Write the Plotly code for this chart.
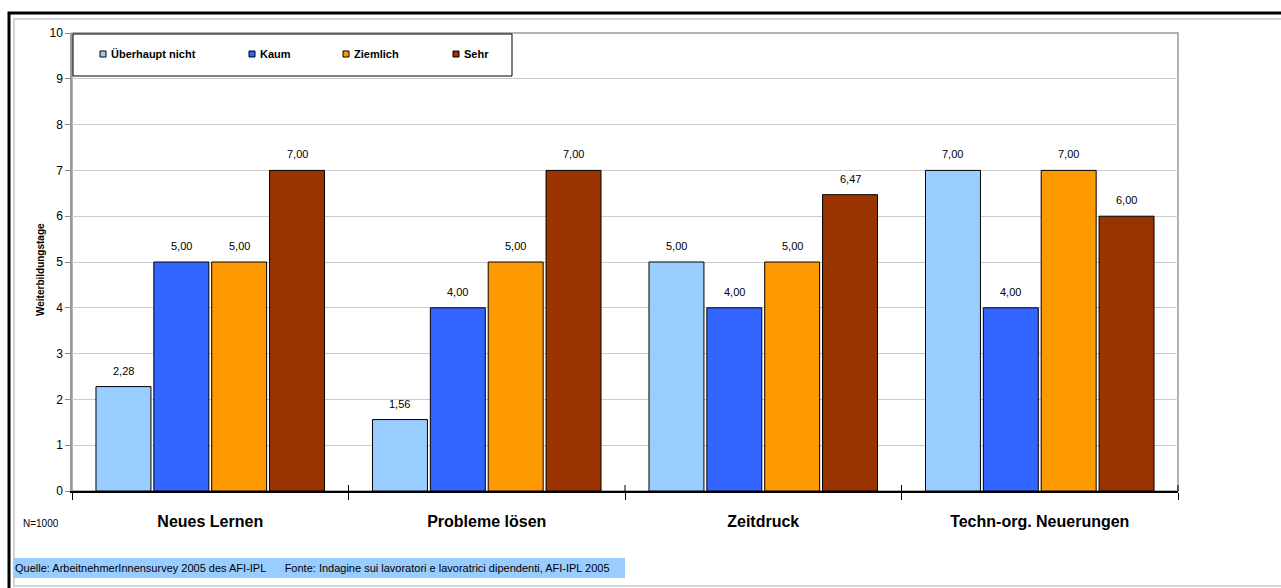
import plotly.graph_objects as go

# Weiterbildungstage nach Anforderung am Arbeitsplatz
categories = ["Neues Lernen", "Probleme lösen", "Zeitdruck", "Techn-org. Neuerungen"]
series_names = ["Überhaupt nicht", "Kaum", "Ziemlich", "Sehr"]
ueberhaupt_nicht = [2.28, 1.56, 5.00, 7.00]
kaum = [5.00, 4.00, 4.00, 4.00]
ziemlich = [5.00, 5.00, 5.00, 7.00]
sehr = [7.00, 7.00, 6.47, 6.00]
y_ticks = list(range(0, 11))
series_values = [ueberhaupt_nicht, kaum, ziemlich, sehr]
colors = ["#99CCFF", "#3366FF", "#FF9900", "#993300"]

W, H = 1281, 588
L, R, T, B = 72, 1178, 33, 491  # plot area in pixels
FONT = "Liberation Sans, Arial, sans-serif"


def px(x):
    return (x - L) / (R - L)


def py(y):
    return (B - y) / (B - T)


BARGAP = 0.163
fig = go.Figure()
for name, vals, col in zip(series_names, series_values, colors):
    fig.add_trace(go.Bar(
        x=categories, y=vals, name=name,
        marker=dict(color=col, line=dict(color="#000000", width=1)),
        showlegend=False, hoverinfo="x+y+name",
    ))

# value labels above each bar
n = len(series_values)
slot = (1 - BARGAP) / n
annotations = []
for j, vals in enumerate(series_values):
    for i, v in enumerate(vals):
        annotations.append(dict(
            x=i + (j - (n - 1) / 2) * slot, y=v, xref="x", yref="y",
            text=f"{v:.2f}".replace(".", ","), showarrow=False,
            yanchor="bottom", yshift=8,
            font=dict(family=FONT, size=11, color="#000000"),
        ))

shapes = [
    # outer frame
    dict(type="rect", xref="paper", yref="paper", x0=px(9), x1=px(1300), y0=py(600), y1=py(13),
         line=dict(color="#000000", width=3), layer="below"),
    dict(type="rect", xref="paper", yref="paper", x0=px(14), x1=px(1300), y0=py(586), y1=py(19),
         line=dict(color="#C8C8C8", width=1.5), layer="below"),
    # plot area border
    dict(type="rect", xref="paper", yref="paper", x0=0, x1=1, y0=0, y1=1,
         line=dict(color="#999999", width=1.5), layer="below"),
    # source band
    dict(type="rect", xref="paper", yref="paper", x0=px(13), x1=px(625), y0=py(578), y1=py(558),
         fillcolor="#99CCFF", line=dict(width=0), layer="below"),
    # legend box
    dict(type="rect", xref="paper", yref="paper", x0=px(73), x1=px(512), y0=py(76), y1=py(34),
         fillcolor="#FFFFFF", line=dict(color="#000000", width=1), layer="above"),
]

# category separators crossing the x axis
for k in range(1, len(categories) + 1):
    xb = px(L + k * (R - L) / len(categories))
    shapes.append(dict(type="line", xref="paper", yref="paper", x0=xb, x1=xb,
                       y0=py(485), y1=py(491), line=dict(color="#000000", width=1)))

# legend entries
legend_x = [100, 249, 343, 453]
for lx, name, col in zip(legend_x, series_names, colors):
    shapes.append(dict(type="rect", xref="paper", yref="paper", x0=px(lx), x1=px(lx + 6),
                       y0=py(57), y1=py(51), fillcolor=col,
                       line=dict(color="#000000", width=1), layer="above"))
    annotations.append(dict(x=px(lx + 9), y=py(54), xref="paper", yref="paper",
                            text=f"<b>{name}</b>", showarrow=False, xanchor="left",
                            yanchor="middle",
                            font=dict(family=FONT, size=11, color="#000000")))

annotations += [
    dict(x=px(40), y=py(270), xref="paper", yref="paper", text="<b>Weiterbildungstage</b>",
         textangle=-90, showarrow=False, xanchor="center", yanchor="middle",
         font=dict(family=FONT, size=10, color="#000000")),
    dict(x=px(21), y=py(523), xref="paper", yref="paper", text="N=1000",
         xanchor="left", yanchor="middle",
         showarrow=False, font=dict(family=FONT, size=10, color="#000000")),
    dict(x=px(13), y=py(568), xref="paper", yref="paper",
         text="Quelle: ArbeitnehmerInnensurvey 2005 des AFI-IPL&nbsp;&nbsp;&nbsp;&nbsp;&nbsp;&nbsp;"
              "Fonte: Indagine sui lavoratori e lavoratrici dipendenti, AFI-IPL 2005",
         xanchor="left", yanchor="middle", showarrow=False,
         font=dict(family=FONT, size=11, color="#000000")),
]

fig.update_layout(
    width=W, height=H,
    margin=dict(l=L, r=W - R, t=T, b=H - B, pad=0),
    barmode="group", bargap=BARGAP, bargroupgap=0.05,
    plot_bgcolor="#FFFFFF", paper_bgcolor="#FFFFFF",
    font=dict(family=FONT, color="#000000"),
    separators=",.",
    shapes=shapes, annotations=annotations,
)
fig.update_xaxes(
    showline=True, linecolor="#000000", linewidth=1.5,
    ticks="outside", tickson="boundaries", ticklen=7, tickcolor="#000000", tickwidth=1,
    tickfont=dict(family=FONT, size=16, color="#000000"),
    ticklabelstandoff=15,
    tickprefix="<b>", ticksuffix="</b>",
    showgrid=False,
)
fig.update_yaxes(
    range=[0, 10], tickvals=y_ticks,
    showline=True, linecolor="#999999", linewidth=1.5,
    ticks="outside", ticklen=5, tickcolor="#888888",
    tickfont=dict(family=FONT, size=12, color="#000000"),
    showgrid=True, gridcolor="#CCCCCC", gridwidth=1,
    zeroline=False,
)

fig.write_html("out.html")
